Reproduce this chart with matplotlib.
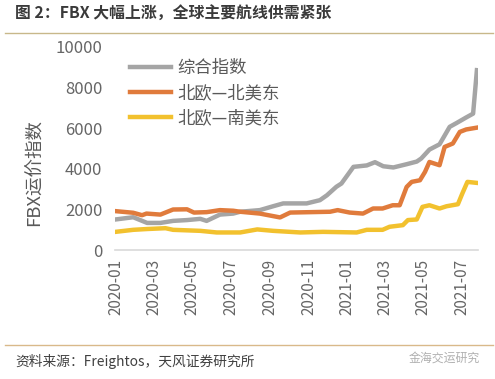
import matplotlib.pyplot as plt
import matplotlib.dates as mdates
import pandas as pd

plt.rcParams['font.family'] = ['Noto Sans CJK SC', 'DejaVu Sans']

# 综合指数
gray_dates = ['2020-01-01', '2020-01-29', '2020-02-20', '2020-03-12', '2020-04-01',
              '2020-04-23', '2020-05-14', '2020-05-24', '2020-06-14', '2020-07-05',
              '2020-07-16', '2020-08-16', '2020-09-06', '2020-09-22', '2020-10-29',
              '2020-11-19', '2020-11-30', '2020-12-15', '2020-12-23', '2021-01-11',
              '2021-02-01', '2021-02-14', '2021-02-27', '2021-03-15', '2021-04-05',
              '2021-04-21', '2021-04-28', '2021-05-11', '2021-05-27', '2021-06-12',
              '2021-06-23', '2021-07-08', '2021-07-19', '2021-07-25']
gray_vals = [1510, 1620, 1340, 1340, 1440, 1480, 1540, 1440, 1750, 1800,
             1890, 1970, 2160, 2300, 2300, 2460, 2700, 3120, 3280, 4100,
             4170, 4330, 4130, 4070, 4230, 4360, 4510, 4950, 5210, 6070,
             6260, 6530, 6720, 8860]

# 北欧—北美东
orange_dates = ['2020-01-01', '2020-01-29', '2020-02-12', '2020-02-19', '2020-03-12',
                '2020-04-01', '2020-04-23', '2020-05-04', '2020-05-24', '2020-06-14',
                '2020-07-05', '2020-07-16', '2020-08-16', '2020-09-17', '2020-10-03',
                '2020-12-05', '2020-12-17', '2021-01-05', '2021-01-26', '2021-02-11',
                '2021-02-26', '2021-03-14', '2021-03-25', '2021-04-05', '2021-04-13',
                '2021-04-26', '2021-05-04', '2021-05-11', '2021-05-19', '2021-05-27',
                '2021-06-04', '2021-06-17', '2021-06-28', '2021-07-08', '2021-07-25']
orange_vals = [1920, 1840, 1720, 1800, 1750, 2000, 2010, 1850, 1870, 1970,
               1940, 1890, 1800, 1610, 1850, 1890, 1970, 1850, 1800, 2050,
               2050, 2210, 2210, 3110, 3360, 3440, 3850, 4340, 4260, 4180,
               5080, 5250, 5820, 5940, 6030]

# 北欧—南美东
yellow_dates = ['2020-01-01', '2020-01-29', '2020-02-20', '2020-03-20', '2020-04-01',
                '2020-05-14', '2020-06-09', '2020-07-05', '2020-07-16', '2020-08-12',
                '2020-09-06', '2020-10-19', '2020-11-24', '2021-01-16', '2021-02-01',
                '2021-02-26', '2021-03-09', '2021-03-30', '2021-04-07', '2021-04-21',
                '2021-04-30', '2021-05-11', '2021-05-27', '2021-06-07', '2021-06-25',
                '2021-07-02', '2021-07-10', '2021-07-25']
yellow_vals = [900, 1000, 1040, 1080, 1000, 950, 870, 870, 870, 1020,
               950, 870, 900, 870, 1000, 1000, 1150, 1230, 1480, 1510,
               2130, 2210, 2050, 2160, 2260, 2790, 3360, 3310]

labels = ['综合指数', '北欧—北美东', '北欧—南美东']
colors = ['#a5a5a5', '#e07b3c', '#f2c12e']

fig = plt.figure(figsize=(4.95, 3.79), dpi=100)
ax = fig.add_axes([0.232, 0.340, 0.734, 0.536])

series = [(gray_dates, gray_vals), (orange_dates, orange_vals), (yellow_dates, yellow_vals)]
for (d, v), lab, c in zip(series, labels, colors):
    ax.plot(pd.to_datetime(d), v, color=c, lw=3.2, label=lab, solid_joinstyle='round')

ax.set_ylim(0, 10000)
ax.set_yticks(range(0, 10001, 2000))
ax.set_xlim(pd.Timestamp('2019-12-31'), pd.Timestamp('2021-07-27'))
ax.xaxis.set_major_locator(mdates.MonthLocator(bymonth=[1, 3, 5, 7, 9, 11]))
ax.xaxis.set_major_formatter(mdates.DateFormatter('%Y-%m'))

for s in ['top', 'right', 'left']:
    ax.spines[s].set_visible(False)
ax.spines['bottom'].set_color('#d9d9d9')
ax.spines['bottom'].set_linewidth(1.2)
ax.tick_params(axis='both', length=0, labelcolor='#666666')
ax.tick_params(axis='y', pad=9, labelsize=12)
ax.tick_params(axis='x', pad=6, labelrotation=90, labelsize=11)

fig.text(35 / 495, 1 - 173 / 379, 'FBX运价指数', rotation=90, ha='center', va='center',
         fontsize=13.3, color='#595959')

leg = ax.legend(loc='upper left', bbox_to_anchor=(0.041, 0.94), frameon=False,
                borderpad=0, borderaxespad=0, fontsize=12.5, handlelength=2.4,
                labelspacing=0.4, handletextpad=0.35)
for t in leg.get_texts():
    t.set_color('#595959')

# 标题与来源
fig.text(0.03, 1 - 14 / 379, '图 2：FBX 大幅上涨，全球主要航线供需紧张', fontsize=11.4,
         fontweight='bold', color='#3a3a3a', va='center', ha='left')
fig.add_artist(plt.Line2D([0.01, 0.995], [1 - 33 / 379] * 2, color='#c8b88a', lw=1))
fig.add_artist(plt.Line2D([0.01, 0.995], [1 - 345 / 379] * 2, color='#d9b98a', lw=1))
fig.text(0.03, 1 - 361 / 379, '资料来源：Freightos，天风证券研究所', fontsize=9.9,
         color='#404040', va='center', ha='left')
fig.text(0.97, 1 - 358 / 379, '金海交运研究', fontsize=8.6, color='#b0b0b0',
         va='center', ha='right')

fig.savefig('out.png', dpi=100)
